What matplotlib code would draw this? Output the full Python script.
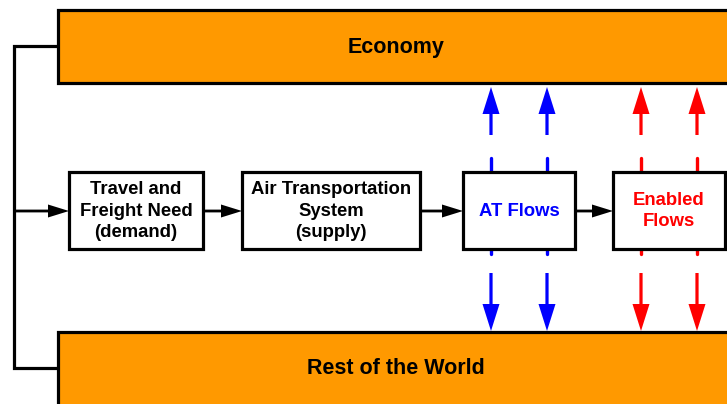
"""Block diagram: air transportation flows between the economy and the rest of the world."""
import matplotlib
matplotlib.use("Agg")
import matplotlib.pyplot as plt
from matplotlib.patches import Rectangle

plt.rcParams['font.family'] = ['Liberation Sans', 'DejaVu Sans']

# --- Data ---
band_labels = ["Economy", "Rest of the World"]
node_labels = ["Travel and\nFreight Need\n(demand)",
               "Air Transportation\nSystem\n(supply)",
               "AT Flows",
               "Enabled\nFlows"]
node_colors = ["black", "black", "#0000FF", "#FF0000"]
flow_colors = ["#0000FF", "#0000FF", "#FF0000", "#FF0000"]

# --- Layout (pixels) ---
W, H = 727, 404
ORANGE = "#FF9900"
bands = [(58, 10, 690, 73), (58, 332, 690, 90)]      # x, y, w, h
band_text_y = [47, 368]
nodes = [(69, 172, 134, 77), (242, 172, 178, 77),
         (463, 172, 112, 77), (613, 172, 112, 77)]
flow_x = [491, 547, 641, 697]
feed_x = 14

fig = plt.figure(figsize=(W / 100, H / 100), dpi=100)
ax = fig.add_axes([0, 0, 1, 1])
ax.set_xlim(0, W)
ax.set_ylim(H, 0)
ax.axis('off')

LW = 2.3

# orange bands
for (x, y, w, h), ty, lab in zip(bands, band_text_y, band_labels):
    ax.add_patch(Rectangle((x, y), w, h, facecolor=ORANGE, edgecolor='black', lw=LW, zorder=2))
    ax.text(396, ty, lab, ha='center', va='center', fontsize=15.5,
            fontweight='bold', color='black', zorder=3)

# feedback line on the left
ax.plot([58, feed_x, feed_x, 58], [46, 46, 368, 368], color='black', lw=LW,
        solid_joinstyle='miter', zorder=1)

# vertical flow arrows (dashed behind the boxes)
for fx, col in zip(flow_x, flow_colors):
    ax.arrow(fx, 135, 0, -48, width=3.2, head_width=17, head_length=27,
             length_includes_head=True, color=col, lw=0, zorder=1)
    ax.arrow(fx, 273, 0, 58, width=3.2, head_width=17, head_length=27,
             length_includes_head=True, color=col, lw=0, zorder=1)
    ax.plot([fx, fx], [158, 254], color=col, lw=2.4, solid_capstyle='round', zorder=1)

# boxes
for (x, y, w, h), lab, col in zip(nodes, node_labels, node_colors):
    ax.add_patch(Rectangle((x, y), w, h, facecolor='white', edgecolor='black', lw=LW, zorder=3))
    ax.text(x + w / 2, y + h / 2 + 0.5, lab, ha='center', va='center', fontsize=13.3,
            fontweight='bold', color=col, linespacing=1.36, zorder=4)

# horizontal black arrows
starts = [feed_x] + [x + w for (x, y, w, h) in nodes[:-1]]
ends = [x for (x, y, w, h) in nodes]
for x0, x1 in zip(starts, ends):
    ax.arrow(x0, 211, x1 - x0, 0, width=2.8, head_width=13, head_length=21,
             length_includes_head=True, color='black', lw=0, zorder=2)

fig.savefig("out.png", dpi=100)
